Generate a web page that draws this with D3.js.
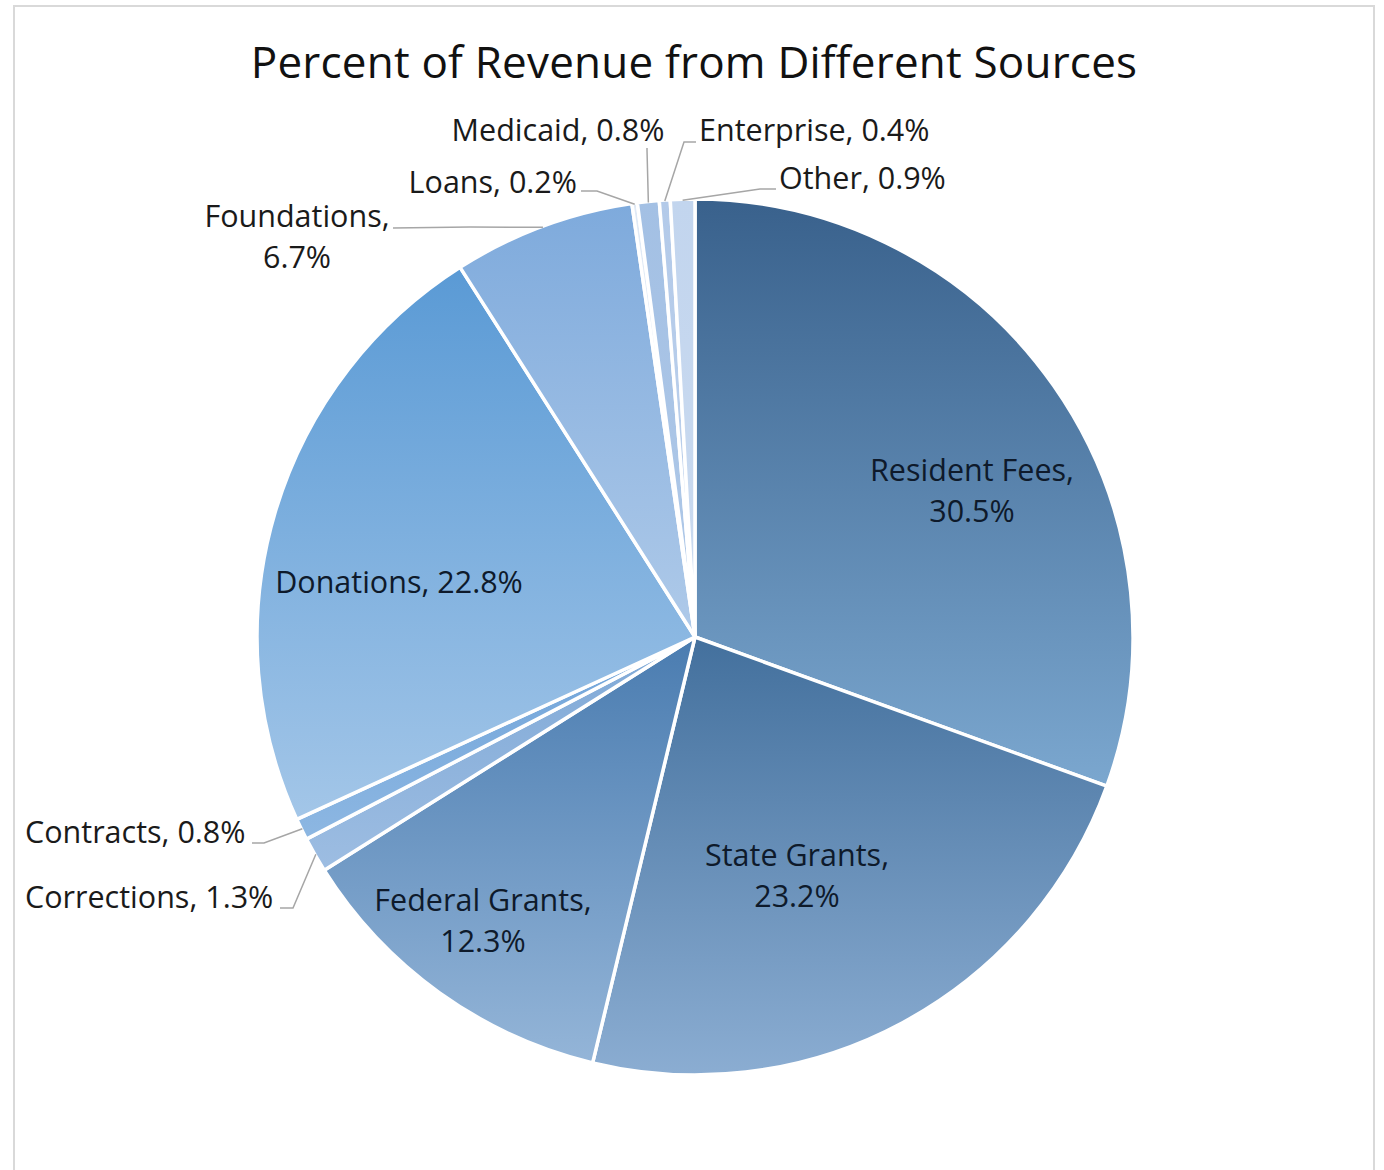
<!DOCTYPE html>
<html>
<head>
<meta charset="utf-8">
<script src="https://cdn.jsdelivr.net/npm/d3@7"></script>
<style>
  html, body { margin: 0; padding: 0; background: #fff; }
  svg { display: block; }
</style>
</head>
<body>
<svg id="chart" width="1384" height="1170"></svg>
<script>
// Revenue sources, clockwise from 12 o'clock
const categories = ["Resident Fees", "State Grants", "Federal Grants", "Corrections", "Contracts",
                    "Donations", "Foundations", "Loans", "Medicaid", "Enterprise", "Other"];
const percents = [30.5, 23.2, 12.3, 1.3, 0.8, 22.8, 6.7, 0.2, 0.8, 0.4, 0.9];
const percentLabels = ["30.5%", "23.2%", "12.3%", "1.3%", "0.8%", "22.8%", "6.7%", "0.2%", "0.8%", "0.4%", "0.9%"];

// Vertical gradient per slice: [top colour, bottom colour]
const sliceColors = [
  ["#39618c", "#7ba7cf"],
  ["#43709d", "#8badd2"],
  ["#4a7cb0", "#94b5d8"],
  ["#7ea8d6", "#9dbde2"],
  ["#6fa3d9", "#8db7e2"],
  ["#5a9ad5", "#a3c6e8"],
  ["#7eaadc", "#afcae9"],
  ["#dfe9f5", "#e8eff8"],
  ["#a3c0e4", "#b0c9e8"],
  ["#b3cae9", "#bdd1ec"],
  ["#c2d5ee", "#cbdbf0"]
];

// Label placement: inside labels are centred on (x, y) lines; outside ones carry a leader path
const labelLayout = [
  { lines: 2, x: 972, y: 481, anchor: "middle" },
  { lines: 2, x: 797, y: 866, anchor: "middle" },
  { lines: 2, x: 483, y: 911, anchor: "middle" },
  { lines: 1, x: 25,  y: 908, anchor: "start", leader: [[280, 908], [293, 908]] },
  { lines: 1, x: 25,  y: 843, anchor: "start", leader: [[252, 843], [264, 843]] },
  { lines: 1, x: 399, y: 593, anchor: "middle" },
  { lines: 2, x: 297, y: 227, anchor: "middle", leader: [[393, 228], [470, 227]] },
  { lines: 1, x: 577, y: 193, anchor: "end",   leader: [[581, 191], [597, 191]] },
  { lines: 1, x: 558, y: 141, anchor: "middle", leader: [[647, 148], [647, 150]] },
  { lines: 1, x: 699, y: 141, anchor: "start", leader: [[696, 142], [684, 142]] },
  { lines: 1, x: 779, y: 189, anchor: "start", leader: [[776, 189], [760, 189]] }
];

const title = "Percent of Revenue from Different Sources";

const svg = d3.select("#chart");
const H = 1170;
const cx = 695, cy = 637, R = 438;
const fontFamily = "'Open Sans', 'Noto Sans', sans-serif";

// Chart frame (open at the bottom edge of the page)
svg.append("path")
  .attr("d", `M14,${H + 5} L14,6 L1374,6 L1374,${H + 5}`)
  .attr("fill", "none")
  .attr("stroke", "#d9d9d9")
  .attr("stroke-width", 2);

// Title
svg.append("text")
  .attr("x", 694)
  .attr("y", 78)
  .attr("text-anchor", "middle")
  .attr("font-family", fontFamily)
  .attr("font-size", 44)
  .attr("letter-spacing", 0.2)
  .attr("fill", "#111")
  .text(title);

const data = categories.map((c, i) => ({ name: c, value: percents[i], label: percentLabels[i], i }));

const pie = d3.pie().sort(null).value(d => d.value);
const arcs = pie(data);
const arc = d3.arc().innerRadius(0).outerRadius(R);

const defs = svg.append("defs");
sliceColors.forEach((c, i) => {
  const grad = defs.append("linearGradient")
    .attr("id", "grad" + i)
    .attr("x1", 0).attr("y1", 0).attr("x2", 0).attr("y2", 1);
  grad.append("stop").attr("offset", "0%").attr("stop-color", c[0]);
  grad.append("stop").attr("offset", "100%").attr("stop-color", c[1]);
});

const g = svg.append("g").attr("transform", `translate(${cx},${cy})`);

g.selectAll("path.slice")
  .data(arcs)
  .join("path")
  .attr("class", "slice")
  .attr("d", arc)
  .attr("fill", d => `url(#grad${d.data.i})`)
  .attr("stroke", "#fff")
  .attr("stroke-width", 3.5)
  .attr("stroke-linejoin", "round");

// Leader lines from label to the slice rim at its mid-angle
const leaderLine = d3.line();
arcs.forEach((d, i) => {
  const L = labelLayout[i];
  if (!L.leader) return;
  const mid = (d.startAngle + d.endAngle) / 2;
  const rim = [cx + Math.sin(mid) * (R - 1), cy - Math.cos(mid) * (R - 1)];
  svg.append("path")
    .attr("d", leaderLine([...L.leader, rim]))
    .attr("fill", "none")
    .attr("stroke", "#a6a6a6")
    .attr("stroke-width", 1.5);
});

// Data labels
arcs.forEach((d, i) => {
  const L = labelLayout[i];
  const inside = !L.leader;
  const t = svg.append("text")
    .attr("x", L.x)
    .attr("y", L.y)
    .attr("text-anchor", L.anchor)
    .attr("font-family", fontFamily)
    .attr("font-size", 30.5)
    .attr("fill", inside ? "#0e1a2b" : "#1a1a1a");
  if (L.lines === 2) {
    t.append("tspan").attr("x", L.x).text(d.data.name + ",");
    t.append("tspan").attr("x", L.x).attr("dy", 41).text(d.data.label);
  } else {
    t.text(d.data.name + ", " + d.data.label);
  }
});
</script>
</body>
</html>
